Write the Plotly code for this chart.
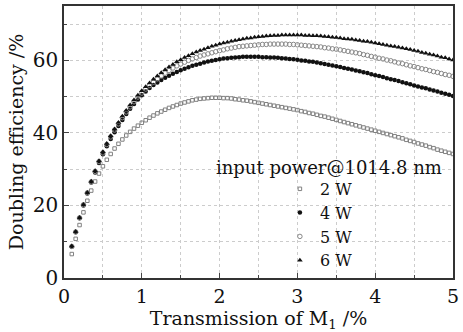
import plotly.graph_objects as go

x_vals = [round(0.10 + 0.05 * i, 2) for i in range(99)]

eff_2w = [6.6, 10.8, 14.6, 18.1, 21.3, 24.1, 26.6, 28.8, 30.8, 32.6,
          34.2, 35.7, 37.0, 38.2, 39.3, 40.3, 41.2, 42.0, 42.8, 43.5,
          44.2, 44.8, 45.4, 45.9, 46.4, 46.9, 47.3, 47.7, 48.1, 48.4,
          48.7, 49.0, 49.2, 49.4, 49.5, 49.6, 49.7, 49.7, 49.7, 49.6,
          49.6, 49.5, 49.3, 49.2, 49.0, 48.9, 48.7, 48.5, 48.3, 48.1,
          47.9, 47.7, 47.5, 47.3, 47.1, 46.9, 46.7, 46.5, 46.3, 46.0,
          45.8, 45.5, 45.3, 45.0, 44.7, 44.5, 44.2, 43.9, 43.6, 43.3,
          43.0, 42.7, 42.4, 42.1, 41.8, 41.5, 41.2, 40.9, 40.6, 40.3,
          40.0, 39.7, 39.4, 39.1, 38.8, 38.5, 38.1, 37.8, 37.5, 37.1,
          36.8, 36.5, 36.1, 35.8, 35.4, 35.1, 34.8, 34.5, 34.2]

eff_4w = [8.6, 12.6, 16.5, 20.0, 23.3, 26.3, 29.1, 31.7, 34.1, 36.3,
          38.3, 40.2, 41.9, 43.6, 45.2, 46.7, 48.0, 49.2, 50.4, 51.4,
          52.4, 53.2, 53.9, 54.6, 55.2, 55.8, 56.3, 56.8, 57.3, 57.7,
          58.1, 58.5, 58.8, 59.1, 59.4, 59.7, 59.9, 60.1, 60.3, 60.5,
          60.6, 60.7, 60.8, 60.9, 61.0, 61.0, 61.0, 61.0, 61.0, 60.9,
          60.9, 60.8, 60.8, 60.7, 60.6, 60.5, 60.4, 60.3, 60.2, 60.0,
          59.9, 59.7, 59.6, 59.4, 59.2, 59.0, 58.8, 58.6, 58.4, 58.2,
          57.9, 57.7, 57.5, 57.2, 57.0, 56.7, 56.5, 56.2, 55.9, 55.7,
          55.4, 55.1, 54.8, 54.6, 54.3, 54.0, 53.7, 53.4, 53.1, 52.8,
          52.5, 52.3, 52.0, 51.7, 51.4, 51.1, 50.8, 50.5, 50.2]

eff_5w = [8.7, 12.7, 16.6, 20.2, 23.5, 26.5, 29.4, 32.1, 34.5, 36.8,
          38.9, 40.8, 42.5, 44.2, 45.8, 47.2, 48.6, 49.9, 51.0, 52.1,
          53.1, 54.0, 54.9, 55.7, 56.5, 57.2, 57.9, 58.5, 59.0, 59.5,
          60.0, 60.4, 60.8, 61.2, 61.5, 61.8, 62.1, 62.4, 62.7, 62.9,
          63.2, 63.4, 63.6, 63.8, 63.9, 64.0, 64.1, 64.2, 64.3, 64.4,
          64.4, 64.5, 64.5, 64.5, 64.5, 64.5, 64.4, 64.4, 64.3, 64.2,
          64.1, 64.0, 63.9, 63.8, 63.7, 63.5, 63.4, 63.2, 63.1, 62.9,
          62.7, 62.5, 62.3, 62.1, 61.9, 61.6, 61.4, 61.1, 60.9, 60.6,
          60.4, 60.1, 59.9, 59.6, 59.3, 59.1, 58.8, 58.5, 58.3, 58.0,
          57.7, 57.5, 57.2, 56.9, 56.7, 56.4, 56.1, 55.9, 55.6]

eff_6w = [8.8, 12.8, 16.7, 20.3, 23.6, 26.7, 29.6, 32.3, 34.8, 37.1,
          39.2, 41.1, 42.9, 44.6, 46.2, 47.7, 49.1, 50.4, 51.6, 52.7,
          53.8, 54.8, 55.7, 56.6, 57.4, 58.2, 58.9, 59.6, 60.2, 60.8,
          61.3, 61.8, 62.3, 62.7, 63.1, 63.5, 63.9, 64.2, 64.5, 64.8,
          65.0, 65.3, 65.5, 65.7, 65.9, 66.1, 66.2, 66.4, 66.5, 66.6,
          66.7, 66.8, 66.9, 66.9, 67.0, 67.0, 67.0, 67.0, 67.0, 67.0,
          66.9, 66.9, 66.8, 66.8, 66.7, 66.6, 66.5, 66.4, 66.3, 66.2,
          66.0, 65.9, 65.8, 65.6, 65.5, 65.3, 65.2, 65.0, 64.8, 64.6,
          64.4, 64.2, 64.0, 63.8, 63.6, 63.4, 63.2, 63.0, 62.7, 62.5,
          62.2, 62.0, 61.7, 61.5, 61.2, 60.9, 60.7, 60.4, 60.1]

series_names = ["2 W", "4 W", "5 W", "6 W"]
legend_title = "input power@1014.8 nm"
x_title = "Transmission of M<sub>1</sub> /%"
y_title = "Doubling efficiency /%"
x_ticks = [0, 1, 2, 3, 4, 5]
y_ticks = [0, 20, 40, 60]

FONT = "DejaVu Serif"

fig = go.Figure()
fig.add_trace(go.Scatter(x=x_vals, y=eff_2w, mode="markers", name=series_names[0],
                         marker=dict(symbol="square-open", size=3.5, color="#808080",
                                     line=dict(width=1, color="#808080"))))
fig.add_trace(go.Scatter(x=x_vals, y=eff_4w, mode="markers", name=series_names[1],
                         marker=dict(symbol="circle", size=4.5, color="#111111")))
fig.add_trace(go.Scatter(x=x_vals, y=eff_5w, mode="markers", name=series_names[2],
                         marker=dict(symbol="circle-open", size=4.5, color="#888888",
                                     line=dict(width=1, color="#888888"))))
fig.add_trace(go.Scatter(x=x_vals, y=eff_6w, mode="markers", name=series_names[3],
                         marker=dict(symbol="triangle-up", size=5, color="#111111")))

fig.add_annotation(text=legend_title, xref="paper", yref="paper",
                   x=0.68, y=0.405, xanchor="center", yanchor="middle",
                   showarrow=False,
                   font=dict(family=FONT, size=18, color="#111111"))

fig.update_layout(
    width=463, height=332,
    margin=dict(l=64, r=4, t=5, b=54),
    paper_bgcolor="white", plot_bgcolor="white",
    font=dict(family=FONT, size=18, color="#111111"),
    showlegend=True,
    legend=dict(x=0.555, y=0.39, xanchor="left", yanchor="top",
                bgcolor="rgba(0,0,0,0)", font=dict(family=FONT, size=16),
                itemwidth=30, tracegroupgap=0),
    xaxis=dict(range=[0, 5], tickvals=x_ticks, ticks="inside", ticklen=5,
               ticklabeloverflow="allow",
               showline=True, mirror=True, linecolor="#333333", linewidth=1.5,
               showgrid=True, gridcolor="#cccccc", griddash="dot", gridwidth=1,
               zeroline=False,
               minor=dict(dtick=0.5, ticks="inside", ticklen=3, showgrid=True,
                          gridcolor="#cccccc", griddash="dot"),
               title=dict(text=x_title, standoff=4, font=dict(size=19)),
               tickfont=dict(size=19)),
    yaxis=dict(range=[0, 75], tickvals=y_ticks, ticks="inside", ticklen=5,
               showline=True, mirror=True, linecolor="#333333", linewidth=1.5,
               showgrid=False, zeroline=False,
               minor=dict(dtick=10, ticks="inside", ticklen=3, showgrid=True,
                          gridcolor="#cccccc", griddash="dot"),
               title=dict(text=y_title, standoff=4, font=dict(size=19)),
               tickfont=dict(size=20)),
)

fig.write_html("out.html")
